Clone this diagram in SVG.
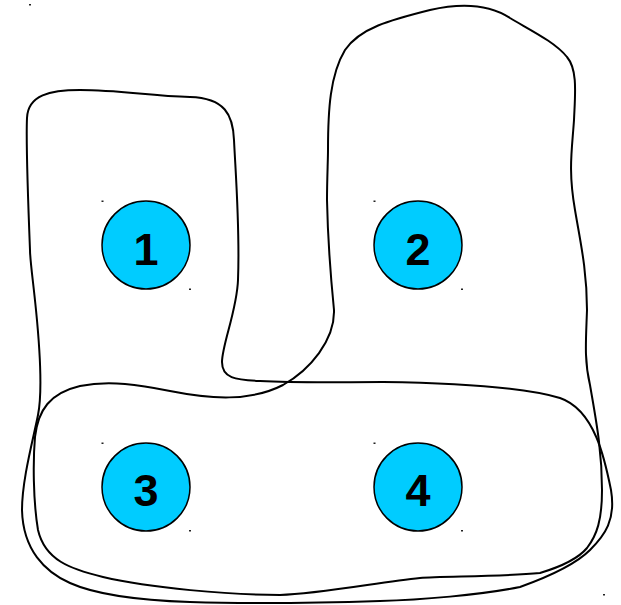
<svg xmlns="http://www.w3.org/2000/svg" width="621" height="605" viewBox="0 0 621 605">
<style>
.outline{fill:none;stroke:#000;stroke-width:2;stroke-linejoin:round}
.node{fill:#00CCFF;stroke:#000;stroke-width:1.5}
.lbl{font-family:"Liberation Sans",Arial,sans-serif;font-weight:bold;font-size:45px;text-anchor:middle;fill:#000}
.dot{fill:#222}
</style>
<rect width="621" height="605" fill="#fff"/>
<g id="connectors">
<path id="groupA" class="outline" d="M 30,250 C 28,200 26,140 27,118 C 28,95 50,90 80,90 C 120,90 150,96 190,97 C 225,98 233,115 234,140 C 236,180 240,230 238,280 C 237,310 222,345 222,362 C 222,378 235,380 260,381 C 300,383 340,382 383,382 C 450,383 520,386 560,398 C 595,410 605,460 611,490 C 616,520 605,535 590,550 C 575,565 545,578 520,587 C 480,595 420,600 380,601 C 320,603 250,604 190,602 C 130,600 90,592 70,583 C 45,572 23,550 22,510 C 22,480 33,440 38,415 C 43,390 40,350 36,310 C 33,280 30,260 30,250 Z"/>
<path id="groupB" class="outline" d="M 328,150 C 328,110 330,75 345,50 C 360,28 390,20 430,10 C 465,2 490,5 510,18 C 530,30 555,42 567,57 C 578,70 575,95 574,120 C 572,150 568,170 575,210 C 580,240 587,270 587,310 C 586,340 584,360 590,385 C 596,420 602,450 602,490 C 602,520 597,535 587,548 C 577,560 560,567 540,573 C 500,577 440,576 420,578 C 380,582 320,594 280,595 C 230,595 150,588 103,577 C 70,569 45,560 38,530 C 33,500 33,460 35,437 C 38,410 50,393 80,386 C 110,380 140,385 170,391 C 210,399 250,402 283,385 C 310,370 335,340 334,310 C 332,290 328,250 327,200 C 327,180 328,160 328,150 Z"/>
</g>
<g id="node1">
<circle class="node" cx="146" cy="245" r="44"/>
<text class="lbl" x="146" y="265">1</text>
<rect class="dot" x="101.5" y="200.5" width="2" height="1.5"/>
<rect class="dot" x="189" y="288.5" width="2" height="1.5"/>
</g>
<g id="node2">
<circle class="node" cx="418" cy="245" r="44"/>
<text class="lbl" x="418" y="265">2</text>
<rect class="dot" x="373.5" y="200.5" width="2" height="1.5"/>
<rect class="dot" x="461" y="288.5" width="2" height="1.5"/>
</g>
<g id="node3">
<circle class="node" cx="146" cy="487" r="44"/>
<text class="lbl" x="146" y="506">3</text>
<rect class="dot" x="101.5" y="442.5" width="2" height="1.5"/>
<rect class="dot" x="189" y="530" width="2" height="1.5"/>
</g>
<g id="node4">
<circle class="node" cx="418" cy="487" r="44"/>
<text class="lbl" x="418" y="506">4</text>
<rect class="dot" x="373.5" y="442.5" width="2" height="1.5"/>
<rect class="dot" x="461" y="530" width="2" height="1.5"/>
</g>
<rect class="dot" x="29" y="4" width="2" height="1.5"/>
<rect class="dot" x="603" y="594" width="2" height="1.5"/>
</svg>
